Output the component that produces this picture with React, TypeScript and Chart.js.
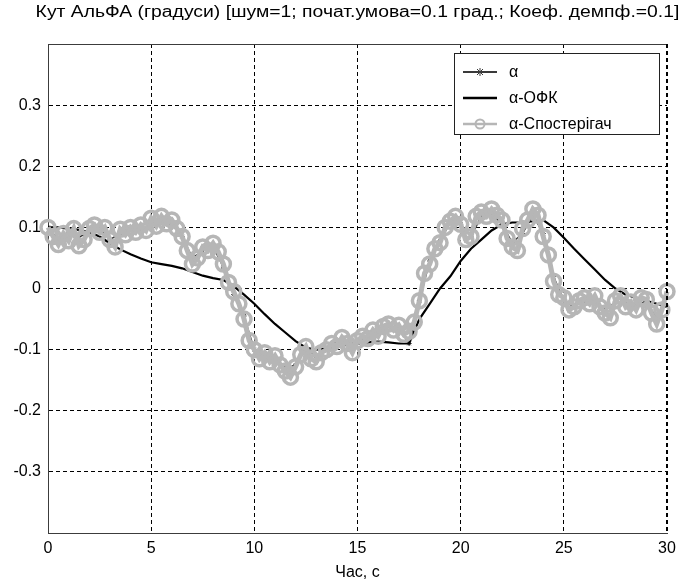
import React, { useEffect, useRef } from "react";
import { Chart, registerables } from "chart.js";

Chart.register(...registerables);

const TITLE = "Кут АльФА (градуси) [шум=1; почат.умова=0.1 град.; Коеф. демпф.=0.1]";
const X_TITLE = "Час, с";
const LEGEND_LABELS = ["α", "α-ОФК", "α-Спостерігач"];
const X_MIN = 0;
const X_MAX = 30;
const X_STEP = 5;
const Y_MIN = -0.4;
const Y_MAX = 0.4;
const Y_STEP = 0.1;

const T_HALF = [
  0, 0.5, 1, 1.5, 2, 2.5, 3, 3.5, 4, 4.5,
  5, 5.5, 6, 6.5, 7, 7.5, 8, 8.5, 9, 9.5,
  10, 10.5, 11, 11.5, 12, 12.5, 13, 13.5, 14, 14.5,
  15, 15.5, 16, 16.5, 17, 17.5, 18, 18.5, 19, 19.5,
  20, 20.5, 21, 21.5, 22, 22.5, 23, 23.5, 24, 24.5,
  25, 25.5, 26, 26.5, 27, 27.5, 28, 28.5, 29, 29.5,
  30,
];

const ALPHA = [
  0.100, 0.080, 0.092, 0.085, 0.090, 0.098, 0.080, 0.090, 0.100, 0.095,
  0.108, 0.110, 0.105, 0.085, 0.050, 0.062, 0.068, 0.035, -0.010, -0.045,
  -0.100, -0.105, -0.112, -0.130, -0.125, -0.100, -0.110, -0.100, -0.088, -0.090,
  -0.088, -0.078, -0.072, -0.060, -0.065, -0.090, -0.020, 0.045, 0.078, 0.108,
  0.105, 0.085, 0.118, 0.122, 0.105, 0.075, 0.090, 0.120, 0.090, 0.020,
  -0.020, -0.030, -0.020, -0.018, -0.035, -0.022, -0.025, -0.028, -0.020, -0.050,
  -0.010,
];

const OFK = [
  0.100, 0.100, 0.098, 0.096, 0.092, 0.085, 0.074, 0.064, 0.056, 0.049,
  0.043, 0.040, 0.037, 0.033, 0.027, 0.021, 0.017, 0.014, 0.004, -0.010,
  -0.025, -0.042, -0.058, -0.072, -0.086, -0.097, -0.100, -0.098, -0.095, -0.092,
  -0.090, -0.088, -0.087, -0.088, -0.090, -0.090, -0.050, -0.025, 0.000, 0.020,
  0.045, 0.065, 0.080, 0.095, 0.105, 0.108, 0.108, 0.110, 0.112, 0.100,
  0.083, 0.065, 0.048, 0.031, 0.014, 0.000, -0.010, -0.015, -0.020, -0.025,
  -0.030,
];

const T_QUARTER = [
  0, 0.25, 0.5, 0.75, 1, 1.25, 1.5, 1.75,
  2, 2.25, 2.5, 2.75, 3, 3.25, 3.5, 3.75,
  4, 4.25, 4.5, 4.75, 5, 5.25, 5.5, 5.75,
  6, 6.25, 6.5, 6.75, 7, 7.25, 7.5, 7.75,
  8, 8.25, 8.5, 8.75, 9, 9.25, 9.5, 9.75,
  10, 10.25, 10.5, 10.75, 11, 11.25, 11.5, 11.75,
  12, 12.25, 12.5, 12.75, 13, 13.25, 13.5, 13.75,
  14, 14.25, 14.5, 14.75, 15, 15.25, 15.5, 15.75,
  16, 16.25, 16.5, 16.75, 17, 17.25, 17.5, 17.75,
  18, 18.25, 18.5, 18.75, 19, 19.25, 19.5, 19.75,
  20, 20.25, 20.5, 20.75, 21, 21.25, 21.5, 21.75,
  22, 22.25, 22.5, 22.75, 23, 23.25, 23.5, 23.75,
  24, 24.25, 24.5, 24.75, 25, 25.25, 25.5, 25.75,
  26, 26.25, 26.5, 26.75, 27, 27.25, 27.5, 27.75,
  28, 28.25, 28.5, 28.75, 29, 29.25, 29.5, 29.75,
  30,
];

const OBSERVER = [
  0.100, 0.085, 0.072, 0.090, 0.078, 0.098, 0.070, 0.080,
  0.098, 0.104, 0.092, 0.100, 0.080, 0.068, 0.097, 0.088,
  0.100, 0.092, 0.104, 0.095, 0.115, 0.102, 0.118, 0.106,
  0.112, 0.098, 0.085, 0.062, 0.040, 0.050, 0.068, 0.062,
  0.074, 0.060, 0.040, 0.010, -0.005, -0.025, -0.050, -0.085,
  -0.100, -0.115, -0.105, -0.120, -0.110, -0.125, -0.135, -0.145,
  -0.128, -0.108, -0.095, -0.115, -0.120, -0.105, -0.100, -0.090,
  -0.095, -0.080, -0.090, -0.105, -0.085, -0.078, -0.082, -0.068,
  -0.078, -0.062, -0.058, -0.068, -0.060, -0.075, -0.070, -0.055,
  -0.020, 0.025, 0.040, 0.065, 0.075, 0.100, 0.110, 0.118,
  0.105, 0.080, 0.085, 0.118, 0.125, 0.118, 0.130, 0.120,
  0.112, 0.082, 0.068, 0.062, 0.098, 0.112, 0.130, 0.120,
  0.085, 0.055, 0.012, -0.010, -0.015, -0.035, -0.030, -0.020,
  -0.015, -0.025, -0.012, -0.030, -0.040, -0.048, -0.020, -0.012,
  -0.030, -0.022, -0.035, -0.015, -0.018, -0.040, -0.058, -0.035,
  -0.005,
];

const FONT = '"Liberation Sans", Arial, sans-serif';
const ALPHA_COLOR = "#3a3a3a";
const OFK_COLOR = "#000000";
const OBS_COLOR = "#b6b6b6";

const decorPlugin = {
  id: "decor",
  afterDraw(chart: any) {
    const { ctx, chartArea: a } = chart;
    ctx.save();
    ctx.strokeStyle = "#3c3c3c";
    ctx.lineWidth = 1;
    ctx.setLineDash([]);
    ctx.beginPath();
    ctx.moveTo(a.left, a.top + 0.5);
    ctx.lineTo(a.right, a.top + 0.5);
    ctx.stroke();
    ctx.strokeStyle = "#000";
    ctx.lineWidth = 2;
    ctx.setLineDash([4, 3]);
    ctx.beginPath();
    ctx.moveTo(a.right, a.top);
    ctx.lineTo(a.right, a.bottom);
    ctx.stroke();
    ctx.setLineDash([]);

    ctx.fillStyle = "#000";
    ctx.font = `16px ${FONT}`;
    ctx.textAlign = "center";
    ctx.textBaseline = "middle";
    const cx = (a.left + a.right) / 2;
    const w = ctx.measureText(TITLE).width;
    const target = (a.right - a.left) * 1.04;
    ctx.save();
    ctx.translate(cx, 13);
    ctx.scale(target / w, 1);
    ctx.fillText(TITLE, 0, 0);
    ctx.restore();

    ctx.fillText(X_TITLE, cx, a.bottom + 40);

    const bx = a.right - 213;
    const by = a.top + 9;
    const bw = 205;
    const bh = 81;
    ctx.fillStyle = "#fff";
    ctx.fillRect(bx, by, bw, bh);
    ctx.strokeStyle = "#222";
    ctx.lineWidth = 1;
    ctx.strokeRect(bx + 0.5, by + 0.5, bw, bh);
    const rows = [by + 19, by + 45, by + 71];
    const lx1 = bx + 9;
    const lx2 = bx + 43;
    const mx = (lx1 + lx2) / 2;
    ctx.textAlign = "left";
    ctx.font = `16px ${FONT}`;
    ctx.strokeStyle = ALPHA_COLOR;
    ctx.lineWidth = 2;
    ctx.beginPath();
    ctx.moveTo(lx1, rows[0]);
    ctx.lineTo(lx2, rows[0]);
    ctx.stroke();
    ctx.lineWidth = 1;
    ctx.beginPath();
    ctx.moveTo(mx - 3, rows[0] - 3);
    ctx.lineTo(mx + 3, rows[0] + 3);
    ctx.moveTo(mx - 3, rows[0] + 3);
    ctx.lineTo(mx + 3, rows[0] - 3);
    ctx.moveTo(mx, rows[0] - 4);
    ctx.lineTo(mx, rows[0] + 4);
    ctx.stroke();
    ctx.strokeStyle = OFK_COLOR;
    ctx.lineWidth = 2.5;
    ctx.beginPath();
    ctx.moveTo(lx1, rows[1]);
    ctx.lineTo(lx2, rows[1]);
    ctx.stroke();
    ctx.strokeStyle = OBS_COLOR;
    ctx.lineWidth = 2.5;
    ctx.beginPath();
    ctx.moveTo(lx1, rows[2]);
    ctx.lineTo(lx2, rows[2]);
    ctx.stroke();
    ctx.lineWidth = 2;
    ctx.beginPath();
    ctx.arc(mx, rows[2], 4.5, 0, Math.PI * 2);
    ctx.stroke();
    ctx.fillStyle = "#000";
    LEGEND_LABELS.forEach((lab, i) => {
      ctx.fillText(lab, bx + 55, rows[i] + 1);
    });
    ctx.restore();
  },
};

function fmtY(v: number): string {
  const r = Math.round(v * 10) / 10;
  if (Math.abs(r) > 0.35) return "";
  return String(r);
}

export default function App() {
  const ref = useRef<HTMLCanvasElement | null>(null);

  useEffect(() => {
    document.body.style.margin = "0";
    const canvas = ref.current;
    if (!canvas) return;
    const chart = new Chart(canvas, {
      type: "line",
      data: {
        datasets: [
          {
            label: LEGEND_LABELS[0],
            data: T_HALF.map((t, i) => ({ x: t, y: ALPHA[i] })),
            borderColor: ALPHA_COLOR,
            borderWidth: 1.5,
            pointStyle: "star",
            pointRadius: 2.5,
            pointBorderColor: "#222",
            pointBorderWidth: 1,
            pointBackgroundColor: "#222",
            tension: 0,
            order: 2,
          },
          {
            label: LEGEND_LABELS[1],
            data: T_HALF.map((t, i) => ({ x: t, y: OFK[i] })),
            borderColor: OFK_COLOR,
            borderWidth: 2.2,
            pointRadius: 0,
            tension: 0,
            order: 1,
          },
          {
            label: LEGEND_LABELS[2],
            data: T_QUARTER.map((t, i) => ({ x: t, y: OBSERVER[i] })),
            borderColor: OBS_COLOR,
            borderWidth: 5,
            pointStyle: "circle",
            pointRadius: 7,
            pointBorderWidth: 3.5,
            pointBorderColor: OBS_COLOR,
            pointBackgroundColor: "rgba(0,0,0,0)",
            tension: 0,
            order: 0,
            clip: false,
          } as any,
        ],
      },
      options: {
        responsive: false,
        animation: false,
        events: [],
        layout: { padding: { left: 0, right: 15, top: 44, bottom: 0 } },
        plugins: {
          legend: { display: false },
          title: { display: false },
          tooltip: { enabled: false },
        },
        scales: {
          x: {
            type: "linear",
            min: X_MIN,
            max: X_MAX,
            ticks: {
              stepSize: X_STEP,
              color: "#000",
              font: { family: FONT, size: 16 },
              padding: 6,
              maxRotation: 0,
            },
            grid: { color: "#000", lineWidth: 1, drawTicks: false },
            border: { display: true, color: "#3c3c3c", width: 1, dash: [4, 3] },
            afterFit: (s: any) => {
              s.height = 48;
            },
          },
          y: {
            type: "linear",
            min: Y_MIN,
            max: Y_MAX,
            ticks: {
              stepSize: Y_STEP,
              color: "#000",
              font: { family: FONT, size: 16 },
              padding: 7,
              callback: (v: any) => fmtY(Number(v)),
            },
            grid: { color: "#000", lineWidth: 1, drawTicks: false },
            border: { display: true, color: "#3c3c3c", width: 1, dash: [4, 3] },
            afterFit: (s: any) => {
              s.width = 48;
            },
          },
        },
      } as any,
      plugins: [decorPlugin],
    });
    return () => chart.destroy();
  }, []);

  return (
    <div style={{ width: 682, height: 581, background: "#fff" }}>
      <canvas ref={ref} width={682} height={581} style={{ display: "block" }} />
    </div>
  );
}
